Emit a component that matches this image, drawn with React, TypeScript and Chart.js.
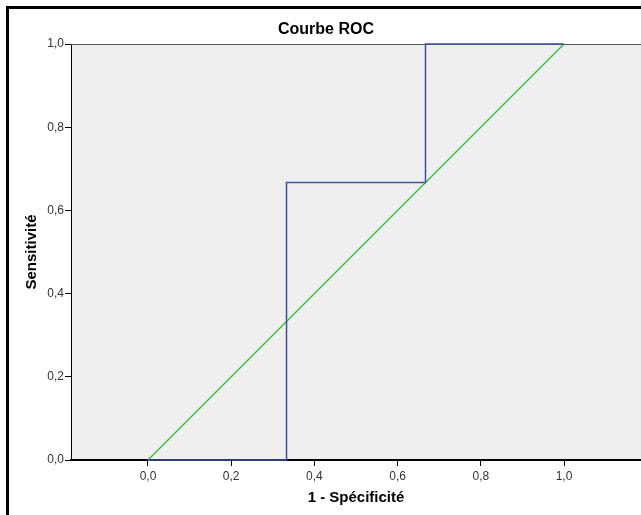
import React, { useEffect, useRef } from "react";
import { Chart, registerables } from "chart.js";

Chart.register(...registerables);

const titleText = "Courbe ROC";
const xTitle = "1 - Spécificité";
const yTitle = "Sensitivité";

const rocX = [0, 0.333, 0.333, 0.667, 0.667, 1];
const rocY = [0, 0, 0.667, 0.667, 1, 1];
const refX = [0, 1];
const refY = [0, 1];

const xTickValues = [0, 0.2, 0.4, 0.6, 0.8, 1.0];
const yTickValues = [0, 0.2, 0.4, 0.6, 0.8, 1.0];

const fmt = (v: number) => v.toFixed(1).replace(".", ",");

const framePlugin = {
  id: "frame",
  beforeDraw(chart: any) {
    const { ctx, chartArea } = chart;
    ctx.save();
    ctx.fillStyle = "#000000";
    ctx.fillRect(6, 6, 3, chart.height - 6);
    ctx.fillRect(6, 6, chart.width - 6, 3);
    ctx.fillStyle = "#efefef";
    ctx.fillRect(chartArea.left, chartArea.top, chartArea.right - chartArea.left, chartArea.bottom - chartArea.top);
    ctx.restore();
  },
  beforeDatasetsDraw(chart: any) {
    const { ctx, chartArea } = chart;
    ctx.save();
    ctx.strokeStyle = "#555555";
    ctx.lineWidth = 1;
    ctx.beginPath();
    ctx.moveTo(chartArea.left, chartArea.top + 0.5);
    ctx.lineTo(chartArea.right, chartArea.top + 0.5);
    ctx.stroke();
    ctx.restore();
  },
};

export default function App() {
  const ref = useRef<HTMLCanvasElement | null>(null);

  useEffect(() => {
    if (!ref.current) return;
    const font = "Arial, 'Liberation Sans', sans-serif";
    const chart = new Chart(ref.current, {
      type: "scatter",
      data: {
        datasets: [
          {
            label: "ROC",
            data: rocX.map((x, i) => ({ x, y: rocY[i] })),
            showLine: true,
            borderColor: "#3f519f",
            borderWidth: 1.5,
            pointRadius: 0,
            fill: false,
            clip: 4,
          } as any,
          {
            label: "Référence",
            data: refX.map((x, i) => ({ x, y: refY[i] })),
            showLine: true,
            borderColor: "#3cbf48",
            borderWidth: 1.5,
            pointRadius: 0,
            fill: false,
            clip: 4,
          } as any,
        ],
      },
      options: {
        responsive: false,
        animation: false,
        layout: { padding: { left: 11, top: 0, right: 0, bottom: 0 } },
        plugins: {
          legend: { display: false },
          tooltip: { enabled: false },
          title: {
            display: true,
            text: titleText,
            color: "#000000",
            font: { family: font, size: 16, weight: "bold", lineHeight: 1.2 },
            padding: { top: 20, bottom: 4.8 },
          },
        },
        scales: {
          x: {
            type: "linear",
            min: -0.185,
            max: 1.185,
            afterBuildTicks: (scale: any) => {
              scale.ticks = xTickValues.map((v) => ({ value: v }));
            },
            afterFit: (scale: any) => {
              scale.height = 55;
            },
            ticks: {
              autoSkip: false,
              maxRotation: 0,
              padding: 3,
              color: "#333333",
              font: { family: font, size: 12 },
              callback: (v: any) => fmt(Number(v)),
            },
            grid: {
              drawOnChartArea: false,
              drawTicks: true,
              tickLength: 6,
              color: "#000000",
              lineWidth: 1,
            },
            border: { display: true, color: "#000000", width: 2 },
            title: {
              display: true,
              text: xTitle,
              color: "#000000",
              font: { family: font, size: 15, weight: "bold", lineHeight: 1.2 },
              padding: { top: 0, bottom: 8 },
            },
          },
          y: {
            type: "linear",
            min: 0,
            max: 1,
            afterBuildTicks: (scale: any) => {
              scale.ticks = yTickValues.map((v) => ({ value: v }));
            },
            afterFit: (scale: any) => {
              scale.width = 60;
            },
            ticks: {
              autoSkip: false,
              padding: 1,
              color: "#333333",
              font: { family: font, size: 12 },
              callback: (v: any) => fmt(Number(v)),
            },
            grid: {
              drawOnChartArea: false,
              drawTicks: true,
              tickLength: 6,
              color: "#000000",
              lineWidth: 1,
            },
            border: { display: true, color: "#000000", width: 1 },
            title: {
              display: true,
              text: yTitle,
              color: "#000000",
              font: { family: font, size: 15, weight: "bold", lineHeight: 1.2 },
              padding: { top: 12, bottom: 0 },
            },
          },
        },
      },
      plugins: [framePlugin],
    } as any);
    return () => chart.destroy();
  }, []);

  return (
    <div style={{ position: "absolute", left: 0, top: 0, width: 641, height: 515, background: "#ffffff" }}>
      <canvas ref={ref} width={641} height={515} style={{ display: "block" }} />
    </div>
  );
}
